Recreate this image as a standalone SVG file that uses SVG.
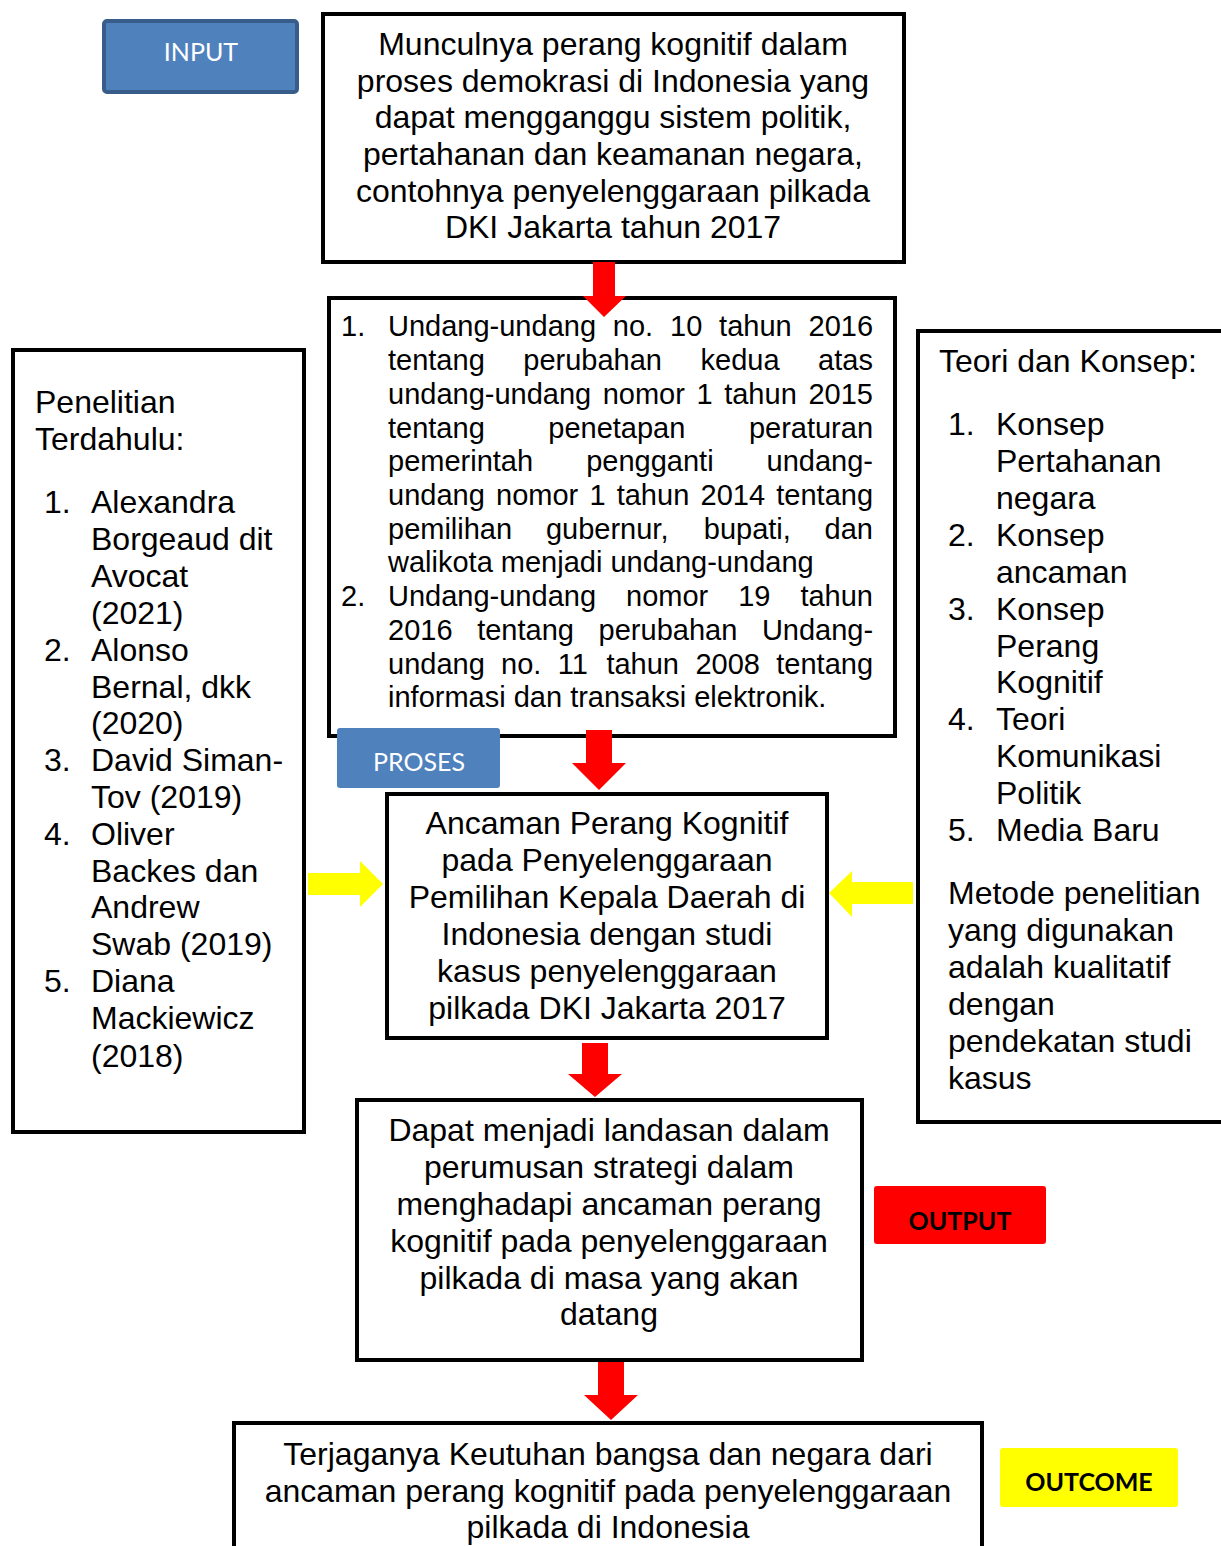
<svg xmlns="http://www.w3.org/2000/svg" width="1221" height="1546" viewBox="0 0 1221 1546">
<style>
.box{fill:#fff;stroke:#000;stroke-width:4}
.t{font-family:"Liberation Sans",Arial,sans-serif;font-size:32px;fill:#000}
.m{font-family:"Liberation Sans",Arial,sans-serif;font-size:29px;fill:#000}
.c{text-anchor:middle}
.lbl{font-family:Lato,"Open Sans",sans-serif;font-size:25px;text-anchor:middle}
.red{fill:#FF0000}
.yel{fill:#FFFF00}
</style>
<rect width="1221" height="1546" fill="#fff"/>
<g id="input-label">
<rect x="104" y="21" width="193" height="71" rx="3" fill="#4F81BD" stroke="#385D8A" stroke-width="4"/>
<text class="lbl" x="201" y="61" fill="#fff">INPUT</text>
</g>
<g id="node-top">
<rect class="box" x="323" y="14" width="581" height="248"/>
<text class="t c" x="613" y="55">Munculnya perang kognitif dalam</text>
<text class="t c" x="613" y="92">proses demokrasi di Indonesia yang</text>
<text class="t c" x="613" y="128">dapat mengganggu sistem politik,</text>
<text class="t c" x="613" y="165">pertahanan dan keamanan negara,</text>
<text class="t c" x="613" y="202">contohnya penyelenggaraan pilkada</text>
<text class="t c" x="613" y="238">DKI Jakarta tahun 2017</text>
</g>
<g id="node-law">
<rect class="box" x="329" y="298" width="566" height="438"/>
<text class="m" x="341" y="336">1.</text>
<text class="m" y="336"><tspan x="388">Undang-undang</tspan><tspan x="612.8">no.</tspan><tspan x="670">10</tspan><tspan x="719.1">tahun</tspan><tspan x="808.5">2016</tspan></text>
<text class="m" y="370"><tspan x="388">tentang</tspan><tspan x="523.3">perubahan</tspan><tspan x="700.5">kedua</tspan><tspan x="818.1">atas</tspan></text>
<text class="m" y="404"><tspan x="388">undang-undang</tspan><tspan x="602.7">nomor</tspan><tspan x="696.5">1</tspan><tspan x="724.2">tahun</tspan><tspan x="808.4">2015</tspan></text>
<text class="m" y="438"><tspan x="388">tentang</tspan><tspan x="548.3">penetapan</tspan><tspan x="748.9">peraturan</tspan></text>
<text class="m" y="471"><tspan x="388">pemerintah</tspan><tspan x="586.2">pengganti</tspan><tspan x="766.6">undang-</tspan></text>
<text class="m" y="505"><tspan x="388">undang</tspan><tspan x="496">nomor</tspan><tspan x="589.4">1</tspan><tspan x="616.7">tahun</tspan><tspan x="700.6">2014</tspan><tspan x="776.3">tentang</tspan></text>
<text class="m" y="539"><tspan x="388">pemilihan</tspan><tspan x="545.9">gubernur,</tspan><tspan x="703.8">bupati,</tspan><tspan x="824.6">dan</tspan></text>
<text class="m" x="388" y="572">walikota menjadi undang-undang</text>
<text class="m" x="341" y="606">2.</text>
<text class="m" y="606"><tspan x="388">Undang-undang</tspan><tspan x="626">nomor</tspan><tspan x="738.2">19</tspan><tspan x="800.4">tahun</tspan></text>
<text class="m" y="640"><tspan x="388">2016</tspan><tspan x="477.2">tentang</tspan><tspan x="598.6">perubahan</tspan><tspan x="761.9">Undang-</tspan></text>
<text class="m" y="674"><tspan x="388">undang</tspan><tspan x="501.1">no.</tspan><tspan x="557.8">11</tspan><tspan x="606.4">tahun</tspan><tspan x="695.4">2008</tspan><tspan x="776.3">tentang</tspan></text>
<text class="m" x="388" y="707">informasi dan transaksi elektronik.</text>
</g>
<g id="node-left">
<rect class="box" x="13" y="350" width="291" height="782"/>
<text class="t" x="35" y="413">Penelitian</text>
<text class="t" x="35" y="450">Terdahulu:</text>
<text class="t" x="44" y="513">1.</text>
<text class="t" x="91" y="513">Alexandra</text>
<text class="t" x="91" y="550">Borgeaud dit</text>
<text class="t" x="91" y="587">Avocat</text>
<text class="t" x="91" y="624">(2021)</text>
<text class="t" x="44" y="661">2.</text>
<text class="t" x="91" y="661">Alonso</text>
<text class="t" x="91" y="698">Bernal, dkk</text>
<text class="t" x="91" y="734">(2020)</text>
<text class="t" x="44" y="771">3.</text>
<text class="t" x="91" y="771">David Siman-</text>
<text class="t" x="91" y="808">Tov (2019)</text>
<text class="t" x="44" y="845">4.</text>
<text class="t" x="91" y="845">Oliver</text>
<text class="t" x="91" y="882">Backes dan</text>
<text class="t" x="91" y="918">Andrew</text>
<text class="t" x="91" y="955">Swab (2019)</text>
<text class="t" x="44" y="992">5.</text>
<text class="t" x="91" y="992">Diana</text>
<text class="t" x="91" y="1029">Mackiewicz</text>
<text class="t" x="91" y="1067">(2018)</text>
</g>
<g id="node-right">
<rect class="box" x="918" y="331" width="320" height="791"/>
<text class="t" x="939" y="372">Teori dan Konsep:</text>
<text class="t" x="948" y="435">1.</text>
<text class="t" x="996" y="435">Konsep</text>
<text class="t" x="996" y="472">Pertahanan</text>
<text class="t" x="996" y="509">negara</text>
<text class="t" x="948" y="546">2.</text>
<text class="t" x="996" y="546">Konsep</text>
<text class="t" x="996" y="583">ancaman</text>
<text class="t" x="948" y="620">3.</text>
<text class="t" x="996" y="620">Konsep</text>
<text class="t" x="996" y="657">Perang</text>
<text class="t" x="996" y="693">Kognitif</text>
<text class="t" x="948" y="730">4.</text>
<text class="t" x="996" y="730">Teori</text>
<text class="t" x="996" y="767">Komunikasi</text>
<text class="t" x="996" y="804">Politik</text>
<text class="t" x="948" y="841">5.</text>
<text class="t" x="996" y="841">Media Baru</text>
<text class="t" x="948" y="904">Metode penelitian</text>
<text class="t" x="948" y="941">yang digunakan</text>
<text class="t" x="948" y="978">adalah kualitatif</text>
<text class="t" x="948" y="1015">dengan</text>
<text class="t" x="948" y="1052">pendekatan studi</text>
<text class="t" x="948" y="1089">kasus</text>
</g>
<g id="node-center">
<rect class="box" x="387" y="794" width="440" height="244"/>
<text class="t c" x="607" y="834">Ancaman Perang Kognitif</text>
<text class="t c" x="607" y="871">pada Penyelenggaraan</text>
<text class="t c" x="607" y="908">Pemilihan Kepala Daerah di</text>
<text class="t c" x="607" y="945">Indonesia dengan studi</text>
<text class="t c" x="607" y="982">kasus penyelenggaraan</text>
<text class="t c" x="607" y="1019">pilkada DKI Jakarta 2017</text>
</g>
<g id="node-output">
<rect class="box" x="357" y="1100" width="505" height="260"/>
<text class="t c" x="609" y="1141">Dapat menjadi landasan dalam</text>
<text class="t c" x="609" y="1178">perumusan strategi dalam</text>
<text class="t c" x="609" y="1215">menghadapi ancaman perang</text>
<text class="t c" x="609" y="1252">kognitif pada penyelenggaraan</text>
<text class="t c" x="609" y="1289">pilkada di masa yang akan</text>
<text class="t c" x="609" y="1325">datang</text>
</g>
<g id="node-outcome">
<rect class="box" x="234" y="1423" width="748" height="140"/>
<text class="t c" x="608" y="1465">Terjaganya Keutuhan bangsa dan negara dari</text>
<text class="t c" x="608" y="1502">ancaman perang kognitif pada penyelenggaraan</text>
<text class="t c" x="608" y="1538">pilkada di Indonesia</text>
</g>
<g id="connectors">
<polygon class="red" points="593,262 615,262 615,296 626,296 604,317 583,296 593,296"/>
<polygon class="red" points="586,730 612,730 612,763 626,763 599,790 572,763 586,763"/>
<polygon class="red" points="582,1043 608,1043 608,1074 622,1074 595,1097 568,1074 582,1074"/>
<polygon class="red" points="598,1362 624,1362 624,1395 638,1395 611,1420 584,1395 598,1395"/>
<polygon class="yel" points="308,873 360,873 360,861 383,884 360,907 360,895 308,895"/>
<polygon class="yel" points="913,882 852,882 852,871 829,893 852,917 852,904 913,904"/>
</g>
<g id="proses-label">
<rect x="337" y="728" width="163" height="60" rx="3" fill="#4F81BD"/>
<text class="lbl" x="419" y="771" fill="#fff">PROSES</text>
</g>
<g id="output-label">
<rect x="874" y="1186" width="172" height="58" rx="3" fill="#FF0000"/>
<text class="lbl" x="960" y="1230" font-weight="bold" fill="#000">OUTPUT</text>
</g>
<g id="outcome-label">
<rect x="1000" y="1448" width="178" height="59" rx="3" fill="#FFFF00"/>
<text class="lbl" x="1089" y="1491" font-weight="bold" fill="#000">OUTCOME</text>
</g>
</svg>
